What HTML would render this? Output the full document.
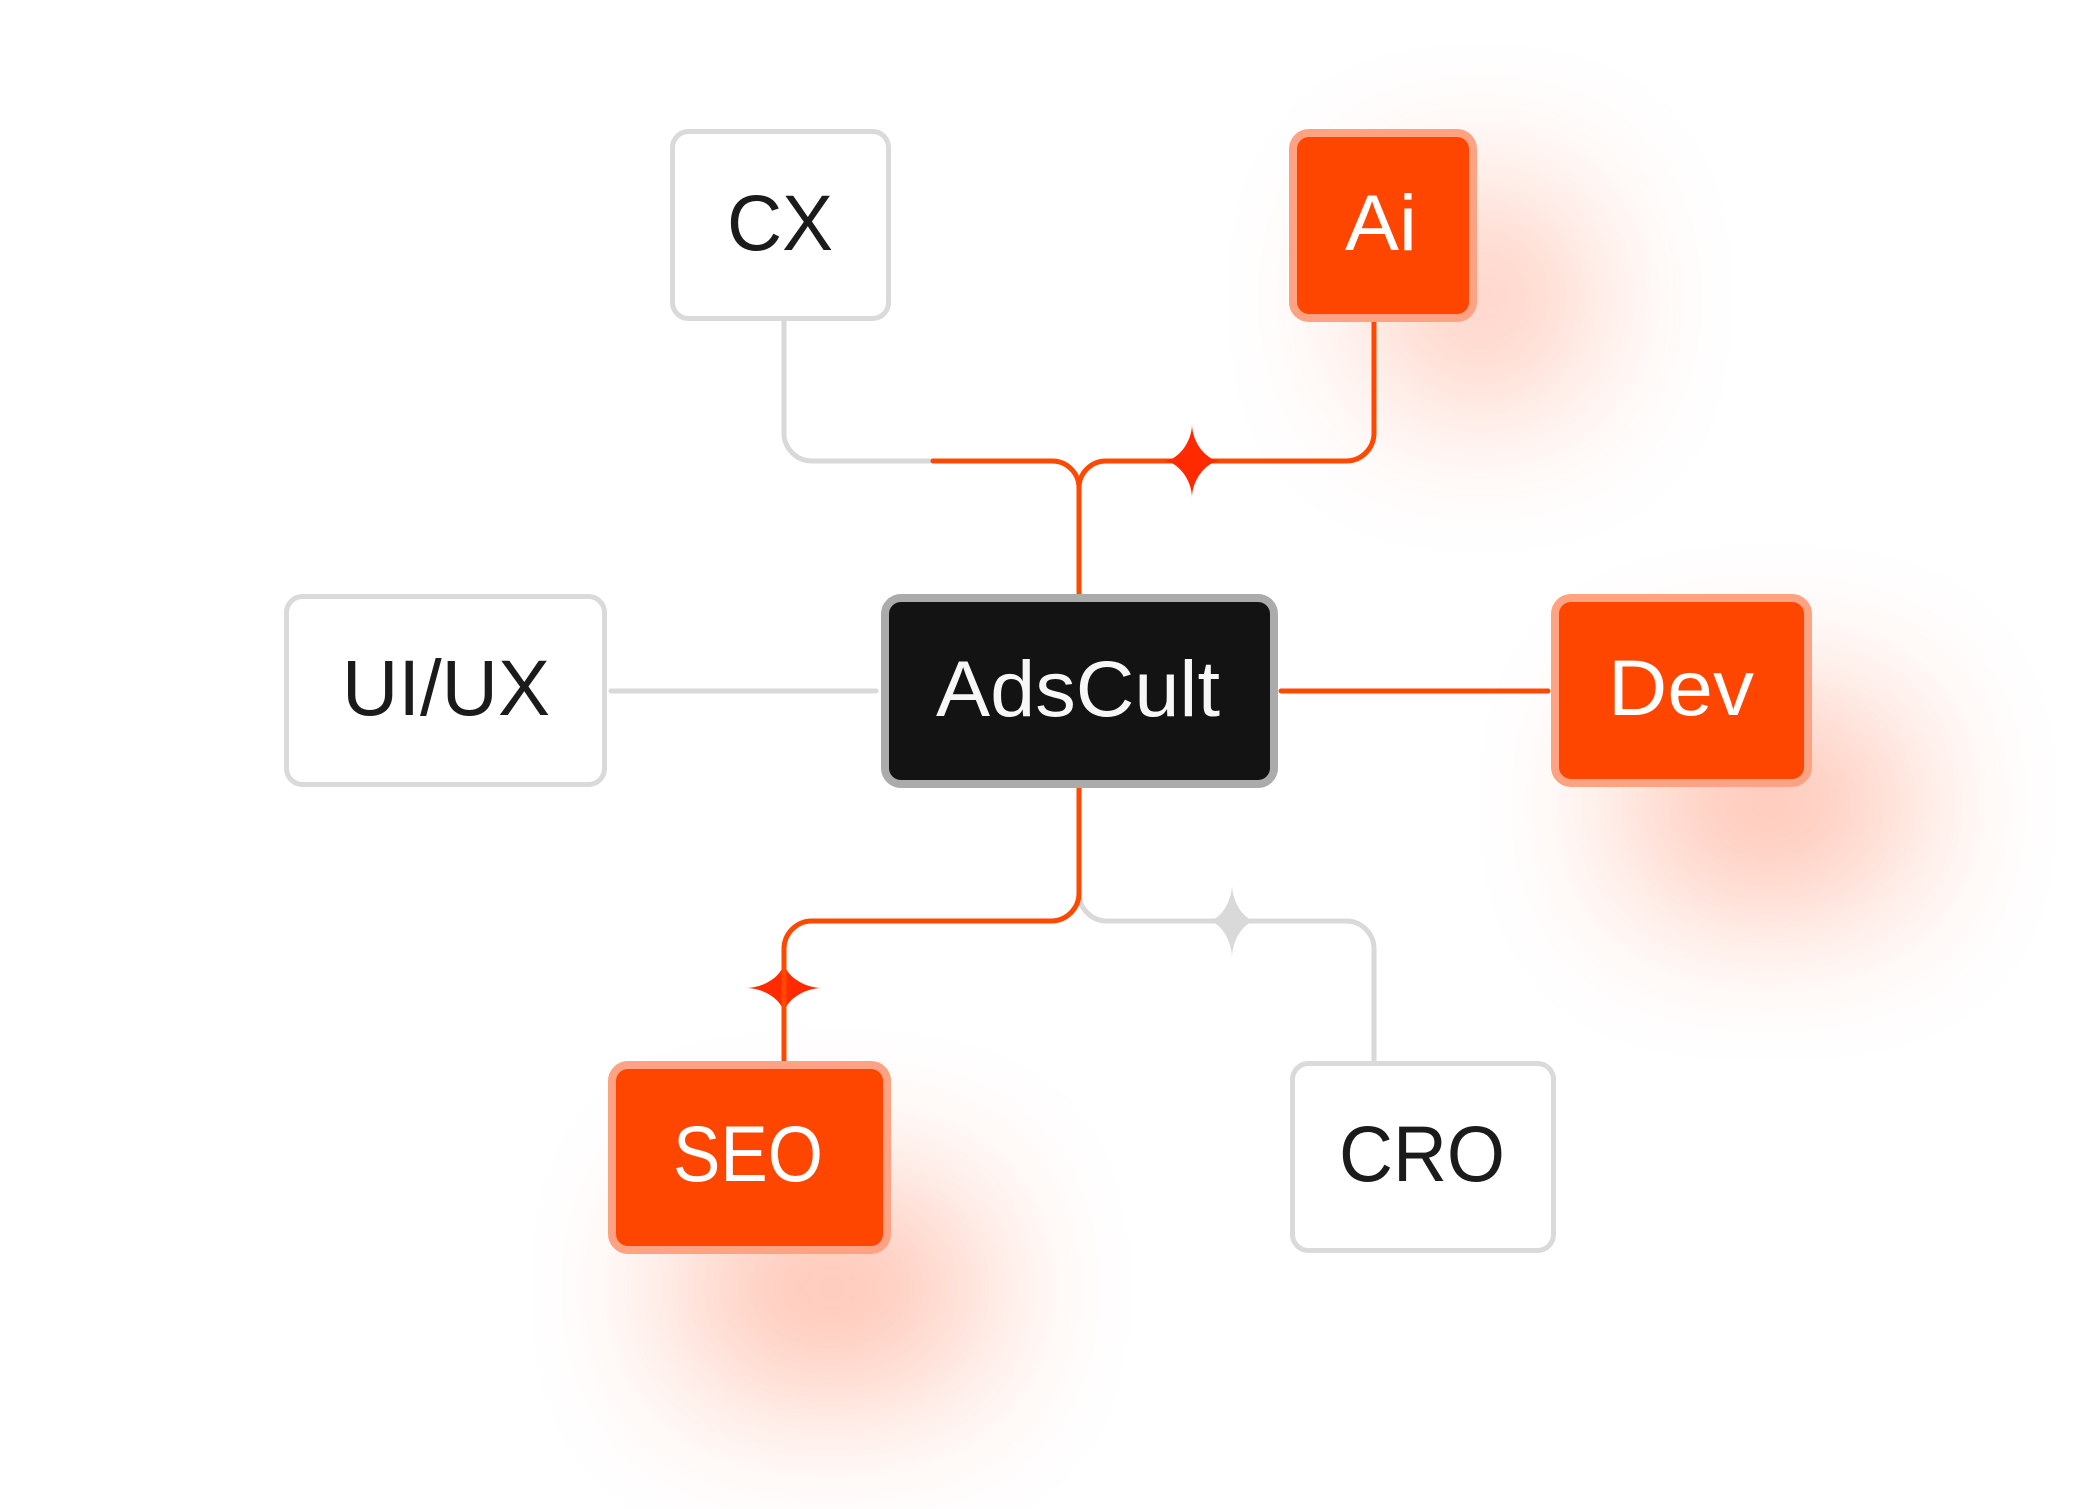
<!DOCTYPE html>
<html>
<head>
<meta charset="utf-8">
<style>
  html, body { margin: 0; padding: 0; background: #ffffff; }
  #stage { position: relative; width: 2096px; height: 1509px; overflow: hidden; background: #ffffff; }
  .glow { position: absolute; background: rgb(255, 78, 28); border-radius: 40px; filter: blur(78px); opacity: 0.37; }
  svg { position: absolute; left: 0; top: 0; }
  text { font-family: "Liberation Sans", "DejaVu Sans", sans-serif; font-size: 79px; }
</style>
</head>
<body>
<div id="stage">
  <!-- glows -->
  <div class="glow" style="left:1384px; top:200px; width:192px; height:196px; opacity:0.34;"></div>
  <div class="glow" style="left:1636px; top:705px; width:265px; height:196px;"></div>
  <div class="glow" style="left:687px; top:1190px; width:287px; height:196px;"></div>

  <svg width="2096" height="1509" viewBox="0 0 2096 1509" xmlns="http://www.w3.org/2000/svg">
    <g fill="none" stroke-width="5" stroke-linecap="round" stroke-linejoin="round">
      <!-- gray connectors -->
      <path d="M784 321 V433 A28 28 0 0 0 812 461 H934" stroke="#d9d9d9"/>
      <path d="M611 691 H876" stroke="#d9d9d9"/>
      <path d="M1079 893 A28 28 0 0 0 1107 921 H1346 A28 28 0 0 1 1374 949 V1061" stroke="#d9d9d9"/>
      <!-- orange connectors -->
      <path d="M933 461 H1052 A27 27 0 0 1 1079 488 V594" stroke="#ff4800"/>
      <path d="M1079 488 A27 27 0 0 1 1106 461 H1346 A28 28 0 0 0 1374 433 V322" stroke="#ff4800"/>
      <path d="M1281 691 H1548" stroke="#ff4800"/>
    </g>

    <!-- gray star (bottom): center 1232,921 w25 h37 -->
    <path d="M1232 884 C1232 902.5 1244.5 921 1257 921 C1244.5 921 1232 939.5 1232 958 C1232 939.5 1219.5 921 1207 921 C1219.5 921 1232 902.5 1232 884 Z" fill="#d9d9d9"/>

    <!-- SEO star (under line): center 784,988 w38 h27 -->
    <path d="M784 961 C784 974.5 803 988 822 988 C803 988 784 1001.5 784 1015 C784 1001.5 765 988 746 988 C765 988 784 974.5 784 961 Z" fill="#ff2a00"/>

    <g fill="none" stroke-width="5" stroke-linecap="round" stroke-linejoin="round">
      <path d="M1079 788 V893 A28 28 0 0 1 1051 921 H812 A28 28 0 0 0 784 949 V1061" stroke="#ff4800"/>
    </g>

    <!-- top star (over line): center 1192,461 w29 h37 -->
    <path d="M1192 424 C1192 442.5 1206.5 461 1221 461 C1206.5 461 1192 479.5 1192 498 C1192 479.5 1177.5 461 1163 461 C1177.5 461 1192 442.5 1192 424 Z" fill="#ff2a00"/>

    <!-- boxes -->
    <rect x="672.5" y="131.5" width="216" height="187" rx="16" fill="#ffffff" stroke="#dadada" stroke-width="5"/>
    <rect x="1293" y="133" width="180" height="185" rx="16" fill="#fe4600" stroke="#fda282" stroke-width="8"/>
    <rect x="286.5" y="596.5" width="318" height="188" rx="16" fill="#ffffff" stroke="#dadada" stroke-width="5"/>
    <rect x="885" y="598" width="389" height="186" rx="16" fill="#131313" stroke="#ababab" stroke-width="8"/>
    <rect x="1555" y="598" width="253" height="185" rx="16" fill="#fe4600" stroke="#fda282" stroke-width="8"/>
    <rect x="612" y="1065" width="275" height="185" rx="16" fill="#fe4600" stroke="#fda282" stroke-width="8"/>
    <rect x="1292.5" y="1063.5" width="261" height="187" rx="16" fill="#ffffff" stroke="#dadada" stroke-width="5"/>

    <!-- labels -->
    <text x="780" y="250" text-anchor="middle" fill="#1b1b1b" textLength="106" lengthAdjust="spacingAndGlyphs">CX</text>
    <text x="1381" y="250" text-anchor="middle" fill="#ffffff" textLength="72" lengthAdjust="spacingAndGlyphs">Ai</text>
    <text x="446" y="715" text-anchor="middle" fill="#1b1b1b" textLength="208" lengthAdjust="spacingAndGlyphs">UI/UX</text>
    <text x="1078" y="716" text-anchor="middle" fill="#f7f7f7" textLength="284" lengthAdjust="spacingAndGlyphs">AdsCult</text>
    <text x="1681" y="715" text-anchor="middle" fill="#ffffff" textLength="146" lengthAdjust="spacingAndGlyphs">Dev</text>
    <text x="748" y="1181" text-anchor="middle" fill="#ffffff" textLength="150" lengthAdjust="spacingAndGlyphs">SEO</text>
    <text x="1422" y="1181" text-anchor="middle" fill="#1b1b1b" textLength="166" lengthAdjust="spacingAndGlyphs">CRO</text>
  </svg>
</div>
</body>
</html>
